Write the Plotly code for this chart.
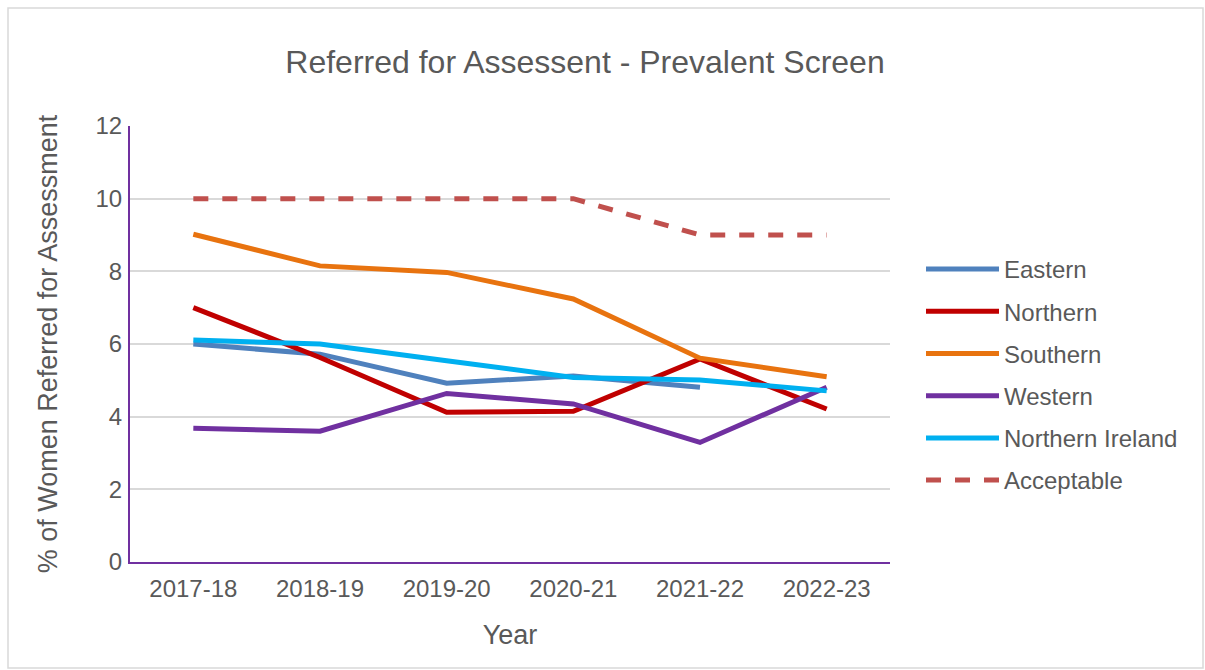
import plotly.graph_objects as go

years = ["2017-18", "2018-19", "2019-20", "2020-21", "2021-22", "2022-23"]
eastern = [6.0, 5.72, 4.92, 5.12, 4.81, None]
northern = [7.0, 5.63, 4.12, 4.15, 5.59, 4.21]
southern = [9.02, 8.15, 7.97, 7.24, 5.61, 5.10]
western = [3.68, 3.60, 4.64, 4.35, 3.29, 4.81]
northern_ireland = [6.11, 6.0, 5.54, 5.08, 5.01, 4.71]
acceptable = [10, 10, 10, 10, 9, 9]

series = [
    ("Eastern", eastern, "#4F81BD", "solid"),
    ("Northern", northern, "#C00000", "solid"),
    ("Southern", southern, "#E8730F", "solid"),
    ("Western", western, "#7030A0", "solid"),
    ("Northern Ireland", northern_ireland, "#00B0F0", "solid"),
    ("Acceptable", acceptable, "#C0504D", "15px,14px"),
]

FONT = "Liberation Sans, Arial, sans-serif"
GREY = "#595959"

fig = go.Figure()
for i, (name, vals, color, dash) in enumerate(series):
    fig.add_trace(go.Scatter(
        x=years, y=vals, name=name, mode="lines",
        line=dict(color=color, width=5, dash=dash),
        legendgroup=f"g{i}", connectgaps=False,
    ))

fig.update_layout(
    width=1205, height=670,
    paper_bgcolor="white", plot_bgcolor="white",
    margin=dict(l=130, r=315, t=126, b=108),
    font=dict(family=FONT, color=GREY),
    title=dict(text="Referred for Assessent - Prevalent Screen",
               font=dict(size=32, color=GREY, family=FONT),
               x=585 / 1205, xanchor="center", xref="container",
               y=1 - 62 / 670, yanchor="middle", yref="container"),
    legend=dict(font=dict(size=24, color=GREY, family=FONT),
                x=921 / 1205, xref="container", xanchor="left",
                y=1 - 247 / 670, yref="container", yanchor="top",
                tracegroupgap=8, itemwidth=73, bgcolor="rgba(0,0,0,0)"),
    showlegend=True,
    shapes=[dict(type="rect", xref="paper", yref="paper",
                 x0=-122 / 760, x1=(1203 - 130) / 760,
                 y0=-(668 - 562) / 436, y1=(562 - 8) / 436,
                 line=dict(color="#D9D9D9", width=1.5), layer="below")],
)

fig.update_xaxes(
    type="category", range=[-0.5, 5.5],
    showline=True, linecolor="#7030A0", linewidth=2,
    showgrid=False, ticks="outside", ticklen=4, tickcolor="rgba(0,0,0,0)",
    tickfont=dict(size=24, color=GREY, family=FONT),
    title=dict(text="Year", font=dict(size=27, color=GREY, family=FONT), standoff=24),
)
fig.update_yaxes(
    range=[0, 12], dtick=2, tick0=0,
    showline=True, linecolor="#7030A0", linewidth=2,
    showgrid=True, gridcolor="#D9D9D9", gridwidth=1.5,
    zeroline=False,
    ticks="outside", ticklen=1, tickcolor="rgba(0,0,0,0)",
    tickfont=dict(size=24, color=GREY, family=FONT),
    title=dict(text="% of Women Referred for Assessment",
               font=dict(size=27, color=GREY, family=FONT), standoff=30),
)

fig.write_html("out.html", config={"displayModeBar": False},
               post_script="document.body.style.margin='0';")
